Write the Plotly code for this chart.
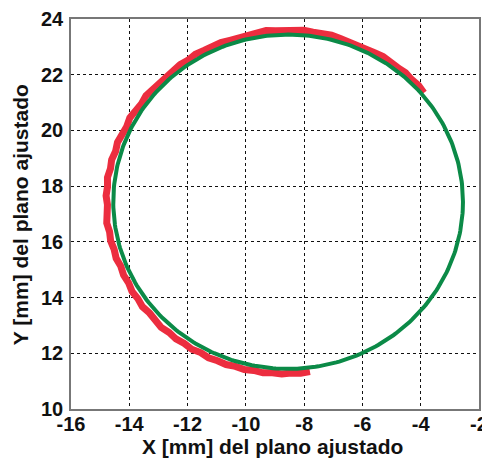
import numpy as np
import plotly.graph_objects as go

# Fitted circle (plane coordinates, mm)
fit_center_x = -8.55
fit_center_y = 17.44
fit_radius = 6.0

# Measured trace: polar samples around the fitted centre
meas_angle_deg = [40, 43, 46, 49, 52, 55, 58, 61, 64, 67, 70,
                  73, 76, 79, 82, 85, 88, 91, 94, 97, 100,
                  103, 106, 109, 112, 115, 118, 121, 124, 127, 130,
                  133, 136, 139, 142, 145, 148, 151, 154, 157, 160,
                  163, 166, 169, 172, 175, 178, 181, 184, 187, 190,
                  193, 196, 199, 202, 205, 208, 211, 214, 217, 220,
                  223, 226, 229, 232, 235, 238, 241, 244, 247, 250,
                  253, 256, 259, 262, 265, 268, 271, 274, 277]
meas_radius = [6.08, 6.12, 6.10, 6.14, 6.11, 6.13, 6.15, 6.12, 6.10, 6.14, 6.12,
               6.13, 6.16, 6.12, 6.15, 6.18, 6.14, 6.17, 6.15, 6.19, 6.16,
               6.14, 6.17, 6.13, 6.16, 6.12, 6.15, 6.18, 6.13, 6.16, 6.14,
               6.12, 6.17, 6.15, 6.19, 6.14, 6.18, 6.21, 6.16, 6.20, 6.23,
               6.19, 6.24, 6.21, 6.26, 6.22, 6.25, 6.20, 6.24, 6.27, 6.22,
               6.25, 6.21, 6.24, 6.19, 6.23, 6.20, 6.25, 6.22, 6.26, 6.21,
               6.24, 6.27, 6.22, 6.25, 6.21, 6.24, 6.19, 6.23, 6.20, 6.22,
               6.18, 6.21, 6.17, 6.20, 6.16, 6.19, 6.15, 6.17, 6.14]

x_ticks = [-16, -14, -12, -10, -8, -6, -4, -2]
y_ticks = [10, 12, 14, 16, 18, 20, 22, 24]

th = np.radians(meas_angle_deg)
mx = fit_center_x + np.array(meas_radius) * np.cos(th)
my = fit_center_y + np.array(meas_radius) * np.sin(th)

t = np.linspace(0, 2 * np.pi, 361)
cx = fit_center_x + fit_radius * np.cos(t)
cy = fit_center_y + fit_radius * np.sin(t)

fig = go.Figure()
fig.add_trace(go.Scatter(x=mx, y=my, mode="lines",
                         line=dict(color="#EC2D3F", width=7),
                         hoverinfo="skip", showlegend=False))
fig.add_trace(go.Scatter(x=cx, y=cy, mode="lines",
                         line=dict(color="#0B8A47", width=4),
                         hoverinfo="skip", showlegend=False))

FONT = "Liberation Sans, Arial, sans-serif"
tick_font = dict(family=FONT, size=20, color="#111111", weight="bold")

fig.update_layout(
    width=482, height=458,
    margin=dict(l=71, r=3, t=19, b=49),
    paper_bgcolor="white", plot_bgcolor="white",
    xaxis=dict(range=[-16, -2], tickvals=x_ticks,
               ticktext=[str(v) for v in x_ticks],
               showgrid=True, gridcolor="#111111", gridwidth=1,
               griddash="3px,3px", zeroline=False,
               showline=True, linecolor="#777777", linewidth=1.5, mirror=True,
               ticks="", tickfont=tick_font, ticklabelstandoff=-4,
               ticklabeloverflow="allow", automargin=False),
    yaxis=dict(range=[10, 24], tickvals=y_ticks,
               ticktext=[str(v) for v in y_ticks],
               showgrid=True, gridcolor="#111111", gridwidth=1,
               griddash="3px,3px", zeroline=False,
               showline=True, linecolor="#777777", linewidth=1.5, mirror=True,
               ticks="", tickfont=tick_font, ticklabelstandoff=2,
               ticklabeloverflow="allow", automargin=False),
    annotations=[
        dict(text="X [mm] del plano ajustado", xref="paper", yref="paper",
             x=0.495, y=-0.097, xanchor="center", yanchor="middle",
             showarrow=False,
             font=dict(family=FONT, size=21, color="#111111", weight="bold")),
        dict(text="Y [mm] del plano ajustado", xref="paper", yref="paper",
             x=-0.125, y=0.497, xanchor="center", yanchor="middle",
             textangle=-90, showarrow=False,
             font=dict(family=FONT, size=21, color="#111111", weight="bold")),
    ],
)

fig.write_html("out.html")
